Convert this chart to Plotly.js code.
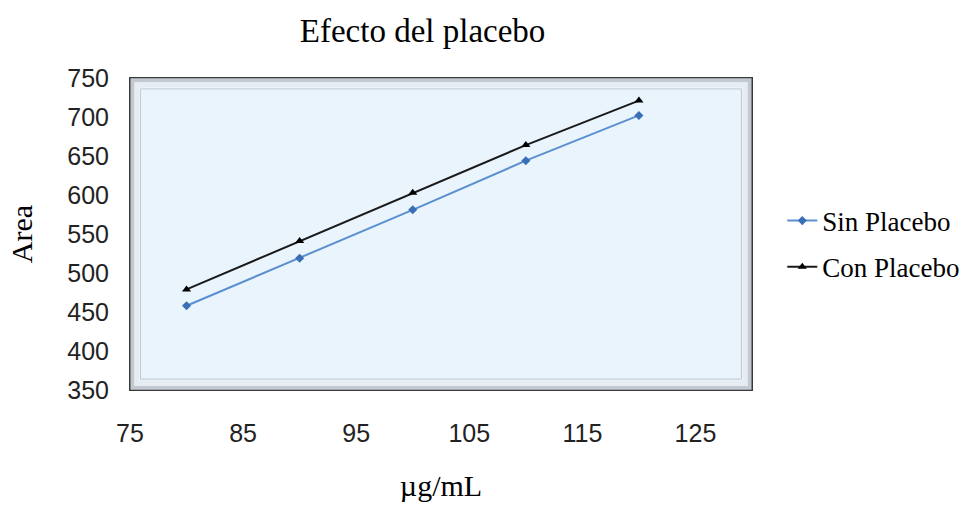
<!DOCTYPE html>
<html>
<head>
<meta charset="utf-8">
<script src="https://cdn.plot.ly/plotly-3.0.1.min.js"></script>
<style>html,body{margin:0;padding:0;background:#fff;}#chart{width:976px;height:505px;}</style>
</head>
<body>
<div id="chart"></div>
<script>
var concentrations = [80, 90, 100, 110, 120];
var sinPlacebo = [458, 519, 581, 644, 702];
var conPlacebo = [479, 541, 603, 664, 721];
var seriesNames = ["Sin Placebo", "Con Placebo"];
var xTicks = [75, 85, 95, 105, 115, 125];
var yTicks = [350, 400, 450, 500, 550, 600, 650, 700, 750];

var traces = [
  {x: concentrations, y: sinPlacebo, name: seriesNames[0], type: "scatter", mode: "lines+markers",
   legendgroup: "a",
   line: {color: "#5A8FD0", width: 2}, marker: {symbol: "diamond", size: 7, color: "#3A6FB5"}},
  {x: concentrations, y: conPlacebo, name: seriesNames[1], type: "scatter", mode: "lines+markers",
   legendgroup: "b",
   line: {color: "#1a1a1a", width: 2}, marker: {symbol: "triangle-up", size: 8, color: "#000"}}
];

var serif = "Liberation Serif, Times New Roman, serif";
var sans = "Liberation Sans, Arial, sans-serif";

var layout = {
  width: 976, height: 505,
  margin: {l: 130, r: 223, t: 78, b: 115},
  paper_bgcolor: "#ffffff",
  plot_bgcolor: "#EAF4FC",
  showlegend: true,
  title: {text: "Efecto del placebo", font: {family: serif, size: 33, color: "#000"}, x: 0.433, xanchor: "center", y: 0.94, yanchor: "middle"},
  xaxis: {
    range: [75, 130], tickvals: xTicks, ticktext: xTicks.map(String),
    showgrid: false, zeroline: false, showline: false, ticks: "",
    ticklabelstandoff: 26,
    tickfont: {family: sans, size: 25, color: "#222"},
    title: {text: "µg/mL", font: {family: serif, size: 30, color: "#000"}, standoff: 28}
  },
  yaxis: {
    range: [350, 750], tickvals: yTicks, ticktext: yTicks.map(String),
    showgrid: false, zeroline: false, showline: false, ticks: "",
    ticklabelstandoff: 20,
    tickfont: {family: sans, size: 25, color: "#222"},
    title: {text: "Area", font: {family: serif, size: 30, color: "#000"}, standoff: 25}
  },
  legend: {
    x: 1.047, xanchor: "left", y: 0.62, yanchor: "top",
    font: {family: serif, size: 27, color: "#000"},
    bgcolor: "rgba(0,0,0,0)", tracegroupgap: 8, itemwidth: 30
  },
  shapes: [
    {type: "rect", xref: "paper", yref: "paper", x0: 0, x1: 1, y0: 0, y1: 1,
     line: {color: "#3a3a3a", width: 2}, layer: "above"},
    {type: "rect", xref: "paper", yref: "paper", x0: 0.004, x1: 0.996, y0: 0.007, y1: 0.993,
     line: {color: "#c3c9d0", width: 4}, layer: "above"},
    {type: "rect", xref: "paper", yref: "paper", x0: 0.011, x1: 0.989, y0: 0.022, y1: 0.978,
     line: {color: "#e6ecf2", width: 5}, layer: "above"},
    {type: "rect", xref: "paper", yref: "paper", x0: 0.017, x1: 0.983, y0: 0.035, y1: 0.965,
     line: {color: "#c0c8d0", width: 1}, layer: "above"}
  ]
};

Plotly.newPlot("chart", traces, layout, {displayModeBar: false, staticPlot: true});
</script>
</body>
</html>
